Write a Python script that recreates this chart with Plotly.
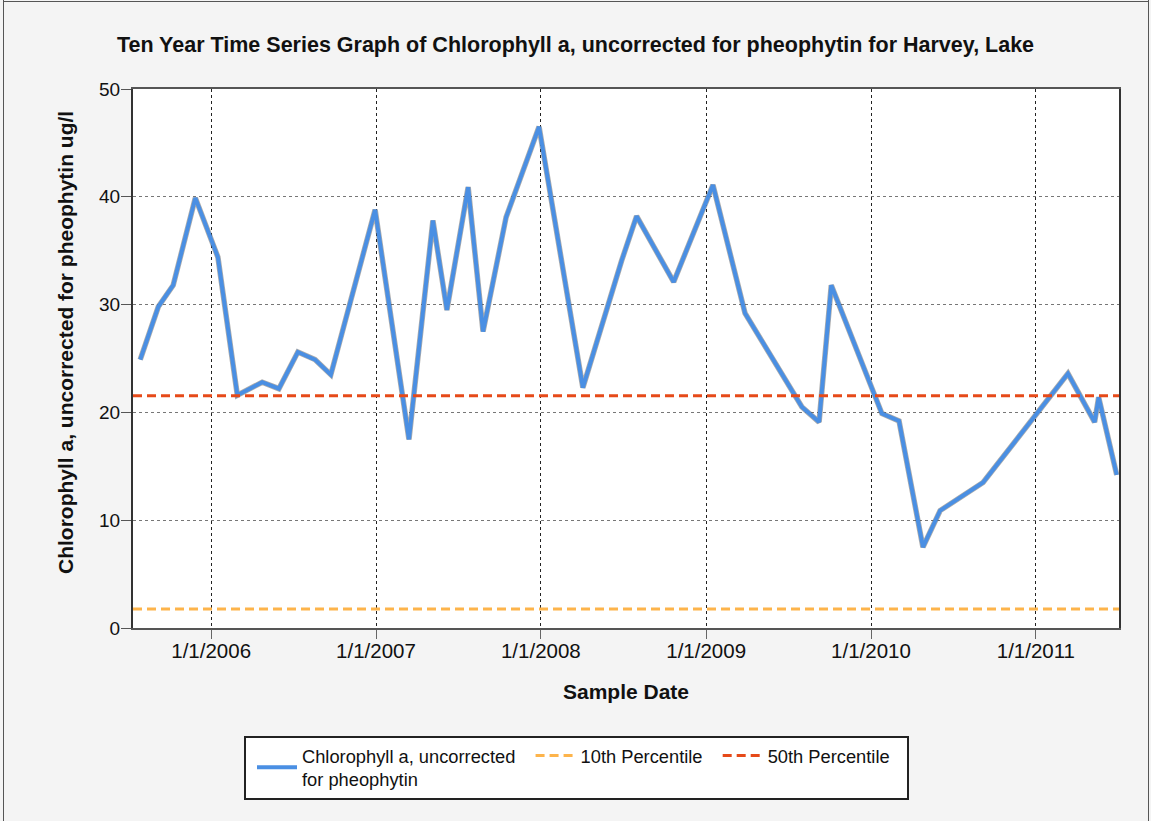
import plotly.graph_objects as go

# ---- data ----
sample_dates = [
    "2005-07-28", "2005-09-06", "2005-10-09", "2005-11-27", "2006-01-16",
    "2006-02-28", "2006-04-24", "2006-05-31", "2006-07-12", "2006-08-19",
    "2006-09-23", "2006-12-30", "2007-03-15", "2007-05-07", "2007-06-07",
    "2007-07-24", "2007-08-26", "2007-10-16", "2007-12-28", "2008-04-03",
    "2008-06-28", "2008-07-31", "2008-10-21", "2009-01-16", "2009-03-28",
    "2009-08-01", "2009-09-08", "2009-10-05", "2010-01-25", "2010-03-04",
    "2010-04-26", "2010-06-03", "2010-09-06", "2011-03-13", "2011-05-11",
    "2011-05-20", "2011-06-29",
]
chl_values = [
    24.9, 29.8, 31.8, 39.9, 34.4,
    21.6, 22.8, 22.2, 25.6, 24.9,
    23.5, 38.8, 17.5, 37.8, 29.5,
    40.9, 27.5, 38.1, 46.5, 22.3,
    34.1, 38.2, 32.1, 41.1, 29.2,
    20.5, 19.1, 31.8, 19.9, 19.2,
    7.5, 10.9, 13.5, 23.6, 19.1,
    21.4, 14.2,
]
p10_value = 1.76
p50_value = 21.55

x_range = ["2005-07-12", "2011-07-04"]
x_tick_vals = ["2006-01-01", "2007-01-01", "2008-01-01", "2009-01-01", "2010-01-01", "2011-01-01"]
x_tick_text = ["1/1/2006", "1/1/2007", "1/1/2008", "1/1/2009", "1/1/2010", "1/1/2011"]
y_tick_vals = [0, 10, 20, 30, 40, 50]

title_text = "Ten Year Time Series Graph of Chlorophyll a, uncorrected for pheophytin for Harvey, Lake"
x_title = "Sample Date"
y_title = "Chlorophyll a, uncorrected for pheophytin ug/l"
series_name = "Chlorophyll a, uncorrected&nbsp;&nbsp;<br>for pheophytin"
p10_name = "10th Percentile&nbsp;&nbsp;"
p50_name = "50th Percentile"

FONT = "Liberation Sans, Arial, sans-serif"
W, H = 1151, 821
L, R, T, B = 133, 32, 89, 193

fig = go.Figure()

# subtle shadow under the main line
fig.add_trace(go.Scatter(
    x=sample_dates, y=chl_values, mode="lines",
    line=dict(color="rgba(70,70,70,0.45)", width=5.5),
    showlegend=False, hoverinfo="skip",
))
fig.add_trace(go.Scatter(
    x=sample_dates, y=chl_values, mode="lines", name=series_name,
    line=dict(color="#4A8FE3", width=4),
))
fig.add_trace(go.Scatter(
    x=x_range, y=[p10_value, p10_value], mode="lines", name=p10_name,
    line=dict(color="#FDB44B", width=3, dash="9px,5px"),
))
fig.add_trace(go.Scatter(
    x=x_range, y=[p50_value, p50_value], mode="lines", name=p50_name,
    line=dict(color="#E64A19", width=3, dash="9px,5px"),
))

pw = W - L - R
ph = H - T - B

def px_x(p):
    return (p - L) / pw

def px_y(p):
    return (H - B - p) / ph

shapes = [
    # outer frame (left, top, right)
    dict(type="line", xref="paper", yref="paper", x0=px_x(3.5), x1=px_x(3.5), y0=px_y(0), y1=px_y(H + 5),
         line=dict(color="#555", width=1)),
    dict(type="line", xref="paper", yref="paper", x0=px_x(3.5), x1=px_x(1148.5), y0=px_y(1.5), y1=px_y(1.5),
         line=dict(color="#555", width=1)),
    dict(type="line", xref="paper", yref="paper", x0=px_x(1148.5), x1=px_x(1148.5), y0=px_y(0), y1=px_y(H + 5),
         line=dict(color="#555", width=1)),
    # legend box
    dict(type="rect", xref="paper", yref="paper", x0=px_x(245), x1=px_x(908), y0=px_y(737), y1=px_y(799),
         fillcolor="white", line=dict(color="#222", width=2), layer="below"),
]

annotations = [
    dict(text="<b>" + y_title + "</b>", textangle=-90,
         xref="paper", yref="paper", x=px_x(65), y=px_y(343),
         xanchor="center", yanchor="middle", showarrow=False,
         font=dict(size=21, family=FONT, color="#111")),
]

fig.update_layout(
    width=W, height=H,
    margin=dict(l=L, r=R, t=T, b=B),
    paper_bgcolor="#F4F4F4",
    plot_bgcolor="white",
    font=dict(family=FONT, color="#111", size=18),
    title=dict(
        text="<b>" + title_text + "</b>",
        x=0.5, xref="container", xanchor="center",
        y=1 - 44 / H, yref="container", yanchor="middle",
        font=dict(size=21.5, family=FONT, color="#111"),
    ),
    xaxis=dict(
        type="date", range=x_range,
        tickvals=x_tick_vals, ticktext=x_tick_text,
        tickfont=dict(size=20.5),
        ticks="outside", ticklen=9, tickcolor="#666", tickwidth=1,
        ticklabelstandoff=-6,
        showgrid=True, gridcolor="#222", griddash="dot", gridwidth=1,
        showline=True, linecolor="#555", linewidth=2, mirror=True,
        zeroline=False,
        title=dict(text="<b>" + x_title + "</b>", font=dict(size=21), standoff=24),
    ),
    yaxis=dict(
        range=[0, 50], tickvals=y_tick_vals,
        tickfont=dict(size=19),
        ticks="outside", ticklen=10, tickcolor="#555", tickwidth=1,
        ticklabelstandoff=-3,
        showgrid=True, gridcolor="#777", griddash="dot", gridwidth=1,
        showline=True, linecolor="#333", linewidth=2, mirror=True,
        zeroline=False,
    ),
    legend=dict(
        orientation="h",
        xref="container", yref="container",
        x=(259 - 7) / W, xanchor="left",
        y=1 - 737 / H, yanchor="top",
        bgcolor="rgba(0,0,0,0)", borderwidth=0,
        font=dict(size=18.3, family=FONT, color="#111"),
        traceorder="normal",
        itemwidth=40,
    ),
    shapes=shapes,
    annotations=annotations,
)

fig.write_html(
    "out.html",
    config={"displayModeBar": False},
    post_script="document.body.style.margin='0';document.body.style.background='#F4F4F4';",
)
